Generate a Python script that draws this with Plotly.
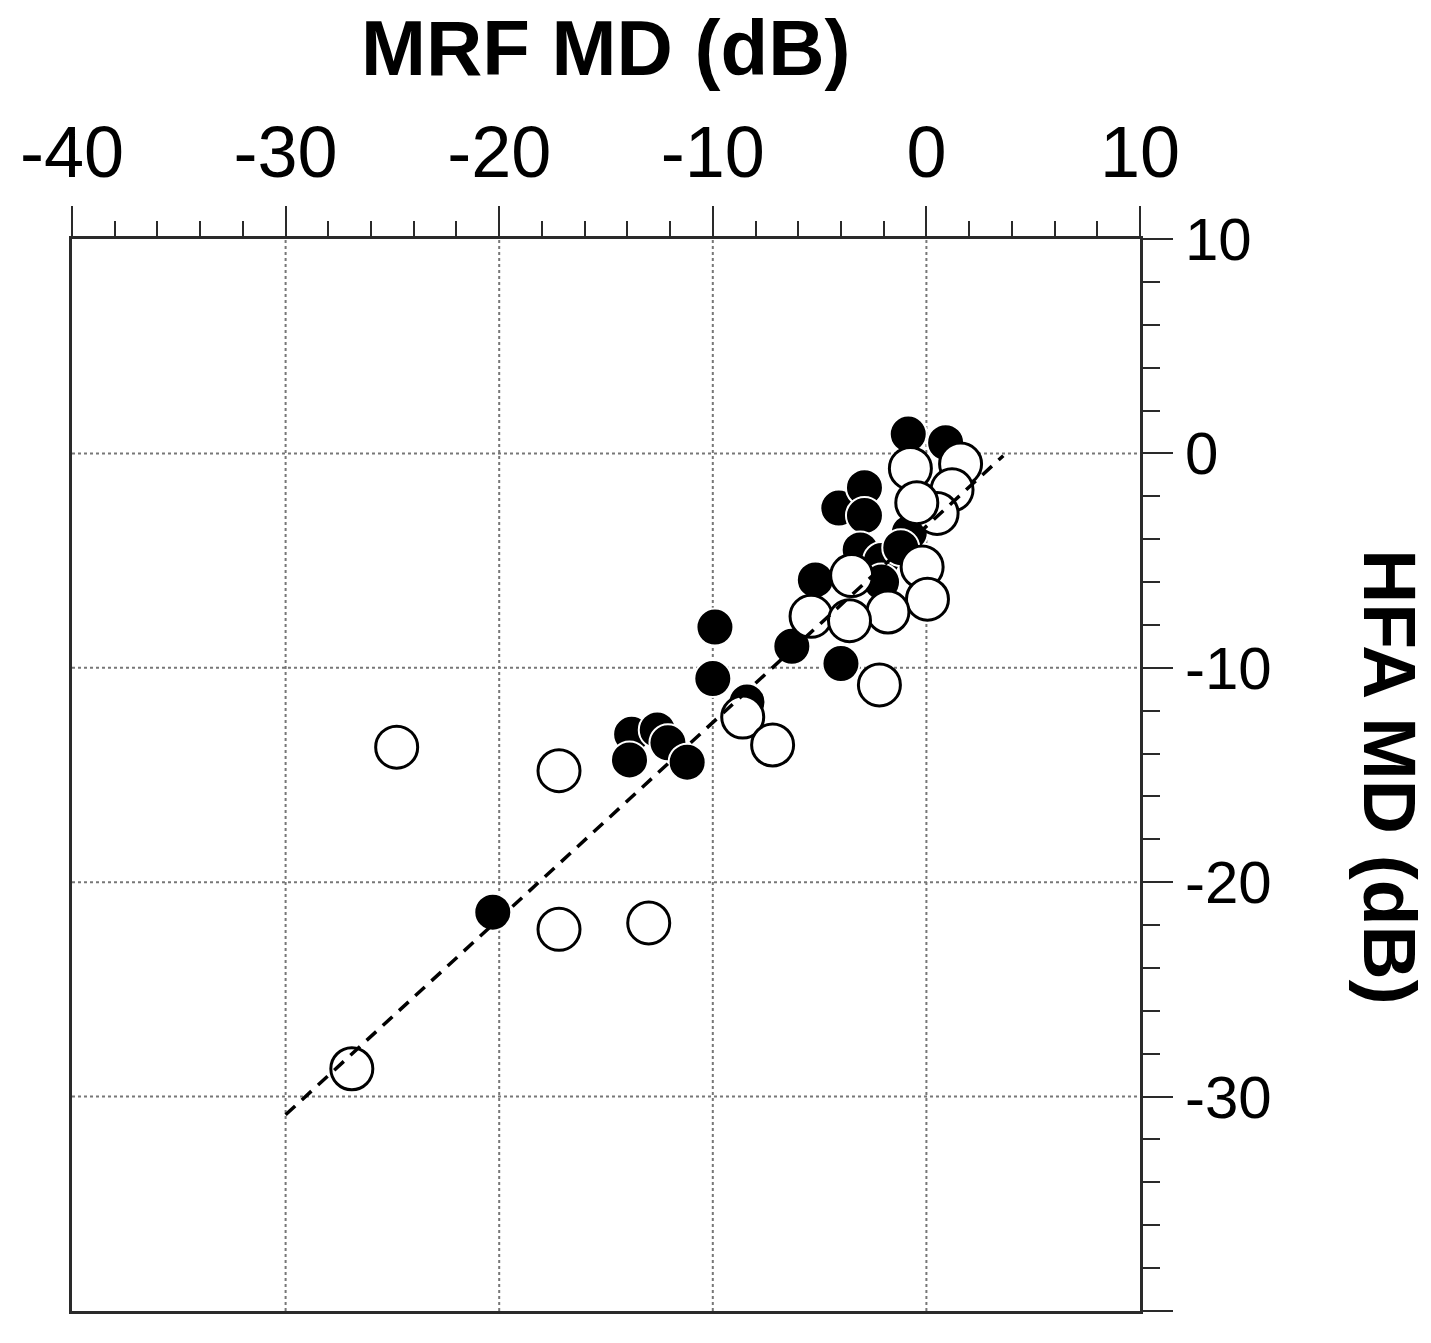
import plotly.graph_objects as go

# ---- data ----
filled_x = [-0.85, 0.9, -4.1, -2.9, -2.9, -3.1, -0.8, -2.1, -5.2, -2.1, -1.2,
            -6.3, -4.0, -9.9, -10.0, -8.4, -13.8, -12.6, -12.1, -13.9, -11.2, -20.3]
filled_y = [0.9, 0.5, -2.55, -1.6, -2.9, -4.5, -3.7, -5.0, -5.9, -6.0, -4.4,
            -9.0, -9.8, -8.1, -10.5, -11.6, -13.1, -12.9, -13.5, -14.3, -14.4, -21.4]

open_x = [1.6, 1.2, 0.5, -0.75, -0.45, -24.8, -17.2, -17.2, -13.0, -26.9, -8.6, -7.2,
          -2.2, -5.4, -3.5, -0.2, 0.05, -1.8, -3.6]
open_y = [-0.5, -1.7, -2.8, -0.7, -2.3, -13.7, -14.8, -22.2, -21.9, -28.7, -12.3, -13.6,
          -10.8, -7.6, -5.7, -5.3, -6.8, -7.4, -7.8]

fit_slope = 0.915
fit_intercept = -3.4
fit_x = [-30.0, 3.6]

major_ticks = [-40, -30, -20, -10, 0, 10]
major_labels = ["-40", "-30", "-20", "-10", "0", "10"]
grid_vals = [-30, -20, -10, 0]

fit_y = [fit_slope * v + fit_intercept for v in fit_x]

FONT = "Liberation Sans, Arial, sans-serif"
AXC = "#2a2a2a"

# page body has an 8px default margin, so figure is 8px smaller than the window
W, H = 1423, 1335
L, T = 59, 231
PW, PH = 1073, 1072

fig = go.Figure()

fig.add_trace(go.Scatter(
    x=filled_x, y=filled_y, mode="markers",
    marker=dict(size=37, color="black", line=dict(color="white", width=2)),
    showlegend=False, cliponaxis=False))
fig.add_trace(go.Scatter(
    x=open_x, y=open_y, mode="markers",
    marker=dict(size=42, color="white", line=dict(color="black", width=3)),
    showlegend=False, cliponaxis=False))
fig.add_trace(go.Scatter(
    x=fit_x, y=fit_y, mode="lines",
    line=dict(color="black", width=3.5, dash="13px,9px"),
    showlegend=False))

for v in grid_vals:
    fig.add_shape(type="line", xref="x", yref="paper", x0=v, x1=v, y0=0, y1=1,
                  line=dict(color="#777777", width=2, dash="dot"), layer="below")
    fig.add_shape(type="line", xref="paper", yref="y", x0=0, x1=1, y0=v, y1=v,
                  line=dict(color="#777777", width=2, dash="dot"), layer="below")

fig.update_xaxes(
    range=[-40, 10], side="top", showgrid=False, zeroline=False,
    showline=True, linecolor=AXC, linewidth=3, mirror=True,
    tickmode="array", tickvals=major_ticks, ticktext=major_labels,
    ticks="outside", ticklen=30, tickwidth=2, tickcolor=AXC,
    minor=dict(dtick=2, tick0=0, ticks="outside", ticklen=15, tickwidth=2,
               tickcolor=AXC, showgrid=False),
    tickfont=dict(family=FONT, size=72, color="black"),
)
fig.update_yaxes(
    range=[-40, 10], side="right", showgrid=False, zeroline=False,
    showline=True, linecolor=AXC, linewidth=3, mirror=True,
    tickmode="array", tickvals=major_ticks, ticktext=major_labels,
    ticks="outside", ticklen=30, tickwidth=2, tickcolor=AXC,
    minor=dict(dtick=2, tick0=0, ticks="outside", ticklen=17, tickwidth=2,
               tickcolor=AXC, showgrid=False),
    tickfont=dict(family=FONT, size=60, color="black"),
)

fig.add_annotation(text="<b>MRF MD (dB)</b>", xref="paper", yref="paper",
                   x=0.5, y=(PH + T - 40) / PH, xanchor="center", yanchor="middle",
                   showarrow=False, font=dict(family=FONT, size=78, color="black"))
fig.add_annotation(text="<b>HFA MD (dB)</b>", xref="paper", yref="paper",
                   x=(1383 - L) / PW, y=(PH + T - 769) / PH,
                   xanchor="center", yanchor="middle", textangle=90,
                   showarrow=False, font=dict(family=FONT, size=75, color="black"))

fig.update_layout(
    width=W, height=H,
    margin=dict(l=L, r=W - L - PW, t=T, b=H - T - PH),
    paper_bgcolor="white", plot_bgcolor="white",
    showlegend=False,
)

fig.write_html("out.html")
